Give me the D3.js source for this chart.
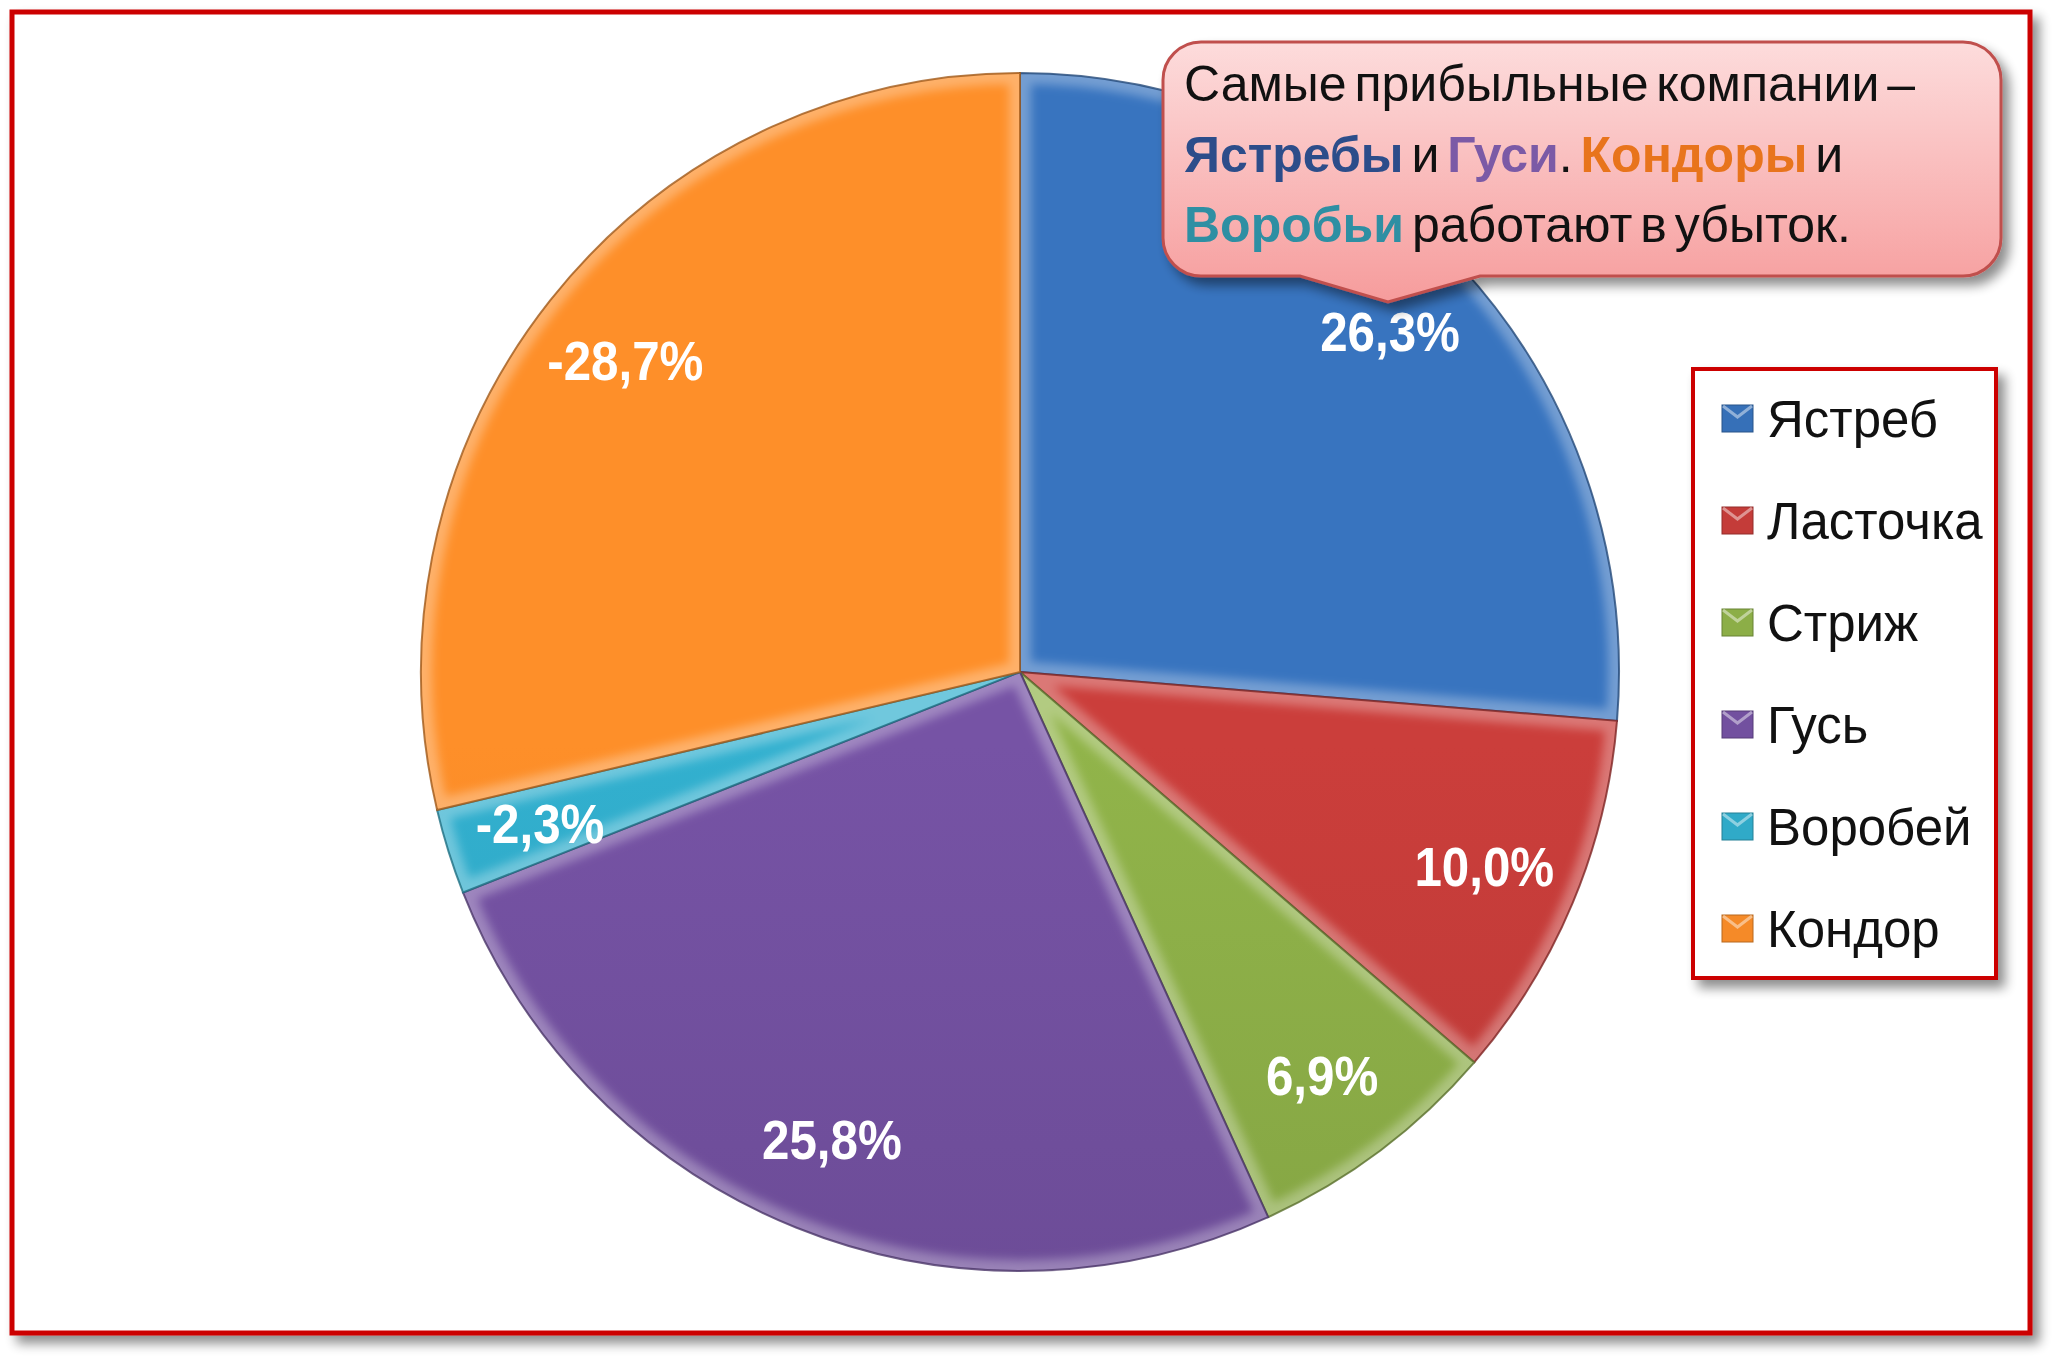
<!DOCTYPE html>
<html><head><meta charset="utf-8">
<script src="https://cdn.jsdelivr.net/npm/d3@7"></script>
<style>body{margin:0;background:#fff} svg{display:block}</style>
</head><body>
<script>
// ---- data ----
const categories = ["Ястреб", "Ласточка", "Стриж", "Гусь", "Воробей", "Кондор"];
const values = [26.3, 10.0, 6.9, 25.8, -2.3, -28.7];
const colors = ["#3670b8", "#c43c39", "#8cae47", "#72509f", "#30aac8", "#f58a28"];
const calloutLine1 = [["Самые прибыльные компании –", "#111111", false]];
const calloutLine2 = [["Ястребы", "#2c4d8a", true], [" и ", "#111111", false], ["Гуси", "#7b5aa6", true], [". ", "#111111", false], ["Кондоры", "#e8741c", true], [" и", "#111111", false]];
const calloutLine3 = [["Воробьи", "#2e8fa3", true], [" работают в убыток.", "#111111", false]];

const W = 2067, H = 1371;
const svg = d3.select("body").append("svg").attr("width", W).attr("height", H);
const defs = svg.append("defs");

// shadow filter
const sh = defs.append("filter").attr("id", "shadow").attr("x", "-10%").attr("y", "-10%").attr("width", "130%").attr("height", "130%");
sh.append("feGaussianBlur").attr("in", "SourceAlpha").attr("stdDeviation", 6).attr("result", "b");
sh.append("feOffset").attr("in", "b").attr("dx", 7).attr("dy", 8).attr("result", "o");
sh.append("feComponentTransfer").attr("in", "o").attr("result", "o2")
  .append("feFuncA").attr("type", "linear").attr("slope", 0.45);
const m = sh.append("feMerge");
m.append("feMergeNode").attr("in", "o2");
m.append("feMergeNode").attr("in", "SourceGraphic");

const blur = defs.append("filter").attr("id", "blur");
blur.append("feGaussianBlur").attr("stdDeviation", 5);

// outer frame
svg.append("rect").attr("x", 12).attr("y", 12).attr("width", 2018).attr("height", 1321)
  .attr("fill", "#fff").attr("stroke", "#cc0000").attr("stroke-width", 5).attr("filter", "url(#shadow)");

// ---- pie ----
const cx = 1020, cy = 672, R = 599;
const pie = d3.pie().sort(null).value(d => Math.abs(d));
const arcs = pie(values);
const arc = d3.arc().innerRadius(0).outerRadius(R);
const labelArc = d3.arc().innerRadius(R * 0.84).outerRadius(R * 0.84);

colors.forEach((c, i) => {
  const g = defs.append("linearGradient").attr("id", "sg" + i)
    .attr("gradientUnits", "userSpaceOnUse").attr("x1", 0).attr("y1", cy - R).attr("x2", 0).attr("y2", cy + R);
  g.append("stop").attr("offset", 0).attr("stop-color", d3.color(c).brighter(0.1));
  g.append("stop").attr("offset", 1).attr("stop-color", d3.color(c).darker(0.45));
});

const pg = svg.append("g").attr("transform", `translate(${cx},${cy})`);
const slices = pg.selectAll("g.slice").data(arcs).join("g").attr("class", "slice");
slices.each(function(d, i) {
  defs.append("clipPath").attr("id", "clip" + i).attr("transform", `translate(${cx},${cy})`)
    .append("path").attr("d", arc(d));
});
slices.append("path").attr("d", arc).attr("fill", (d, i) => `url(#sg${i})`);
slices.append("g").attr("clip-path", (d, i) => `url(#clip${i})`)
  .attr("transform", `translate(${-cx},${-cy})`)
  .append("path").attr("transform", `translate(${cx},${cy})`)
  .attr("d", arc).attr("fill", "none").attr("stroke", "#ffffff").attr("stroke-opacity", 0.3)
  .attr("stroke-width", 22).attr("filter", "url(#blur)");
slices.append("path").attr("d", arc).attr("fill", "none")
  .attr("stroke", (d, i) => d3.color(colors[i]).darker(1.2)).attr("stroke-width", 2).attr("stroke-opacity", 0.8);

const fmt = v => v.toFixed(1).replace(".", ",") + "%";
pg.selectAll("text.lbl").data(arcs).join("text").attr("class", "lbl")
  .attr("transform", d => `translate(${labelArc.centroid(d)}) scale(0.88,1)`)
  .attr("text-anchor", "middle").attr("dy", "0.36em")
  .attr("font-family", "'Liberation Sans', Arial, sans-serif")
  .attr("font-weight", "bold").attr("font-size", 56).attr("fill", "#fff")
  .text(d => fmt(d.data));

// ---- callout ----
const cL = 1163, cT = 42, cR = 2001, cB = 276, r = 38, pA = 1300, pB = 1480, tipX = 1388, tipY = 302;
const cg = defs.append("linearGradient").attr("id", "cg").attr("x1", 0).attr("y1", 0).attr("x2", 0).attr("y2", 1);
cg.append("stop").attr("offset", 0).attr("stop-color", "#fddcdc");
cg.append("stop").attr("offset", 1).attr("stop-color", "#f69c9c");
const cp = d3.path();
cp.moveTo(cL + r, cT);
cp.lineTo(cR - r, cT); cp.arcTo(cR, cT, cR, cT + r, r);
cp.lineTo(cR, cB - r); cp.arcTo(cR, cB, cR - r, cB, r);
cp.lineTo(pB, cB); cp.lineTo(tipX, tipY); cp.lineTo(pA, cB);
cp.lineTo(cL + r, cB); cp.arcTo(cL, cB, cL, cB - r, r);
cp.lineTo(cL, cT + r); cp.arcTo(cL, cT, cL + r, cT, r);
cp.closePath();
svg.append("path").attr("d", cp.toString()).attr("fill", "url(#cg)")
  .attr("stroke", "#c0504d").attr("stroke-width", 3).attr("filter", "url(#shadow)");

const ct = svg.append("text").attr("font-family", "'Liberation Sans', Arial, sans-serif")
  .attr("font-size", 50).attr("word-spacing", -6);
[calloutLine1, calloutLine2, calloutLine3].forEach((line, li) => {
  const t = ct.append("tspan").attr("x", 1184).attr("y", 101 + li * 70.5);
  line.forEach(([s, c, b], k) => {
    (k === 0 ? t : ct.append("tspan")).text(s).attr("fill", c).attr("font-weight", b ? "bold" : "normal");
  });
});

// ---- legend ----
svg.append("rect").attr("x", 1693).attr("y", 369).attr("width", 303).attr("height", 609)
  .attr("fill", "#fff").attr("stroke", "#cc0000").attr("stroke-width", 4).attr("filter", "url(#shadow)");
const ly = d3.scalePoint().domain(categories).range([419, 929]);
const lg = svg.append("g").selectAll("g").data(categories).join("g")
  .attr("transform", d => `translate(1722,${ly(d)})`);
lg.append("rect").attr("x", 0).attr("y", -14).attr("width", 31).attr("height", 27)
  .attr("fill", (d, i) => colors[i]).attr("stroke", (d, i) => d3.color(colors[i]).darker(0.8)).attr("stroke-width", 1);
lg.append("path").attr("d", "M1,-13 L15.5,-2 L30,-13")
  .attr("fill", "none").attr("stroke", "#fff").attr("stroke-opacity", 0.45).attr("stroke-width", 3);
lg.append("text").attr("x", 45).attr("dy", "0.36em")
  .attr("font-family", "'Liberation Sans', Arial, sans-serif").attr("font-size", 51).attr("fill", "#111")
  .text(d => d);
</script>
</body></html>
